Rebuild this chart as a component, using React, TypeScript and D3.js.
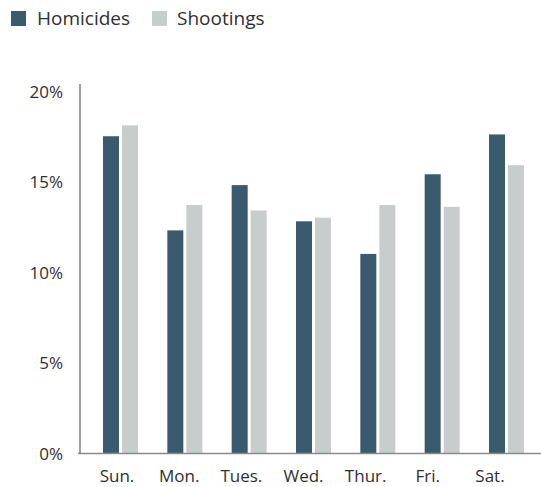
import React from "react";
import * as d3 from "d3";

const days = ["Sun.", "Mon.", "Tues.", "Wed.", "Thur.", "Fri.", "Sat."];
const series = ["Homicides", "Shootings"];
const homicides = [17.5, 12.3, 14.8, 12.8, 11.0, 15.4, 17.6];
const shootings = [18.1, 13.7, 13.4, 13.0, 13.7, 13.6, 15.9];
const yTicks = [0, 5, 10, 15, 20];

const W = 541;
const H = 487;
const colors = ["#3a5a6d", "#c7cccc"];
const font = "'Open Sans', sans-serif";
const textColor = "#2f2f2f";

export default function App() {
  const y = d3.scaleLinear().domain([0, 20]).range([453, 91]);
  const x0 = d3
    .scaleBand<string>()
    .domain(days)
    .range([80, 547])
    .paddingInner(0.456)
    .paddingOuter(0.3575);
  const x1 = d3
    .scaleBand<string>()
    .domain(series)
    .range([0, 35])
    .paddingInner(3 / 19);
  const xLabel = d3.scalePoint<string>().domain(days).range([117, 490]);
  const values = [homicides, shootings];

  return (
    <svg
      width={W}
      height={H}
      style={{ position: "absolute", left: 0, top: 0, display: "block", background: "#fff" }}
    >
      {/* legend */}
      <g fontFamily={font} fontSize={19} fill={textColor}>
        <rect x={11} y={11} width={15} height={15} fill={colors[0]} />
        <text x={37} y={25}>{series[0]}</text>
        <rect x={152} y={11} width={15} height={15} fill={colors[1]} />
        <text x={177} y={25}>{series[1]}</text>
      </g>

      {/* bars */}
      {days.map((d, i) => (
        <g key={d} transform={`translate(${x0(d)},0)`}>
          {series.map((s, j) => (
            <rect
              key={s}
              x={x1(s)}
              y={y(values[j][i])}
              width={x1.bandwidth()}
              height={y(0) - y(values[j][i])}
              fill={colors[j]}
            />
          ))}
        </g>
      ))}

      {/* axes */}
      <line x1={80} x2={80} y1={84} y2={454} stroke="#8a8a8a" strokeWidth={1.6} />
      <line x1={78} x2={541} y1={453.5} y2={453.5} stroke="#8a8a8a" strokeWidth={1.6} />

      {/* y tick labels */}
      <g fontFamily={font} fontSize={17} fill={textColor} textAnchor="end">
        {yTicks.map((t) => (
          <text key={t} x={63} y={y(t)} dominantBaseline="central">
            {t}%
          </text>
        ))}
      </g>

      {/* x labels */}
      <g fontFamily={font} fontSize={17} fill={textColor} textAnchor="middle">
        {days.map((d) => (
          <text key={d} x={xLabel(d)} y={482}>
            {d}
          </text>
        ))}
      </g>
    </svg>
  );
}
